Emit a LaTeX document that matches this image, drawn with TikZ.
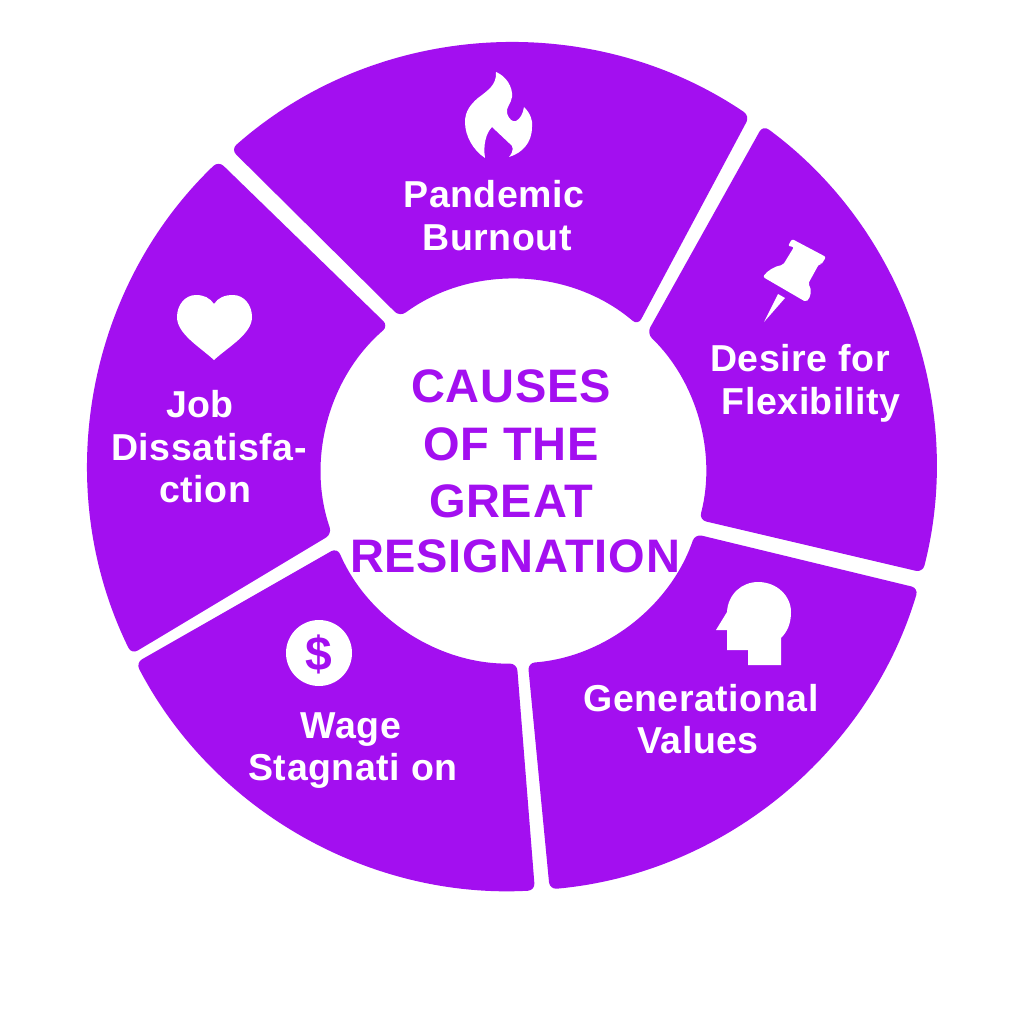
\documentclass[tikz,border=0pt]{standalone}
\usepackage{fontspec}
\setmainfont{Liberation Sans}[LetterSpace=1.5]
\usetikzlibrary{calc}
\definecolor{vio}{HTML}{A30FF0}
\tikzset{
  segfill/.style={fill=vio,rounded corners=7pt},
  iconfill/.style={fill=white},
  lab/.style={text=white,font=\fontsize{37.5}{37.5}\selectfont\bfseries,anchor=base,inner sep=0pt},
  ctr/.style={text=vio,font=\fontsize{47}{47}\selectfont\bfseries,anchor=base,inner sep=0pt}
}
\newcommand{\segm}[4]{%
  \path[segfill] ($(O)+({-(#1)}:424)$) arc[start angle={-(#1)},end angle={-(#2)},radius=424]
   -- ($(I)+({-(#3)}:192)$) arc[start angle={-(#3)},end angle={-(#4)},radius=192] -- cycle;}
\begin{document}
\begin{tikzpicture}[x=1pt,y=-1pt]
\useasboundingbox[fill=white] (0,0) rectangle (1024,1024);
\coordinate (O) at (512,467);
\coordinate (I) at (513.5,471.5);
\segm{131.5}{55.9}{49.6}{126.3}
\segm{53.7}{-14.4}{-14.6}{46}
\segm{-16.6}{-84.9}{-85.7}{-19}
\segm{-86.9}{-152.5}{-156.6}{-89}
\segm{-153.8}{-226.2}{-229.3}{-161}
% flame
\fill[iconfill] (496,72) .. controls (506,76) and (513,87) .. (512,97)
  .. controls (511,104) and (506,107) .. (507,113)
  .. controls (509,120) and (513,122) .. (516,121)
  .. controls (520,119) and (523,114) .. (524,107)
  .. controls (530,113) and (533,120) .. (532,127)
  .. controls (532,143) and (522,153) .. (509,157)
  .. controls (514,151) and (514,146) .. (509,143)
  -- (492,127)
  .. controls (486,133) and (483,145) .. (485,158)
  .. controls (473,150) and (465,136) .. (465,122)
  .. controls (465,111) and (471,104) .. (478,98)
  .. controls (487,91) and (497,85) .. (496,72) -- cycle;
% pin
\fill[iconfill,rounded corners=2pt] (792,239) -- (826,257) -- (821,265) -- (819,264) -- (808,284)
  .. controls (812,289) and (811,297) .. (806,302) -- (763,277)
  .. controls (767,271) and (775,266) .. (783,265)
  -- (794,247) -- (788,246) -- cycle;
\fill[iconfill] (778,294) -- (785,298) -- (764,322) -- cycle;
% head
\fill[iconfill] (716,630) -- (727,612) .. controls (728,594) and (742,582) .. (758,582)
  .. controls (777,582) and (791,596) .. (791,612)
  .. controls (791,624) and (787,632) .. (781,638)
  -- (781,665) -- (748,665) -- (748,650) -- (727,650) -- (727,630) -- cycle;
% heart
\fill[iconfill] (214,360) .. controls (200,347) and (177,334) .. (177,317)
  .. controls (177,305) and (185,295) .. (196,295)
  .. controls (204,295) and (210,298) .. (214,304)
  .. controls (218,298) and (224,295) .. (233,295)
  .. controls (244,295) and (252,305) .. (252,317)
  .. controls (252,334) and (228,347) .. (214,360) -- cycle;
% coin
\node[circle,fill=white,minimum size=66pt,inner sep=0pt] (coin) at (319,653) {};
\node[text=vio,font=\fontsize{48}{48}\selectfont\bfseries,inner sep=0pt] (dollar) at (319,654) {\$};
% labels
\node[lab] (p1) at (494,208) {Pandemic};
\node[lab] (p2) at (497,250) {Burnout};
\node[lab] (d1) at (800,371) {Desire for};
\node[lab] (d2) at (811,414) {Flexibility};
\node[lab] (g1) at (701,711) {Generational};
\node[lab] (g2) at (698,753) {Values};
\node[lab] (w1) at (351,738) {Wage};
\node[lab] (w2) at (353,780) {Stagnati on};
\node[lab] (j1) at (200,417) {Job};
\node[lab] (j2) at (209,460) {Dissatisfa-};
\node[lab] (j3) at (205,502) {ction};
\node[ctr] (c1) at (511,402) {CAUSES};
\node[ctr] (c2) at (511,460) {OF THE};
\node[ctr] (c3) at (511,517) {GREAT};
\node[ctr] (c4) at (515,572) {RESIGNATION};
\end{tikzpicture}
\end{document}
